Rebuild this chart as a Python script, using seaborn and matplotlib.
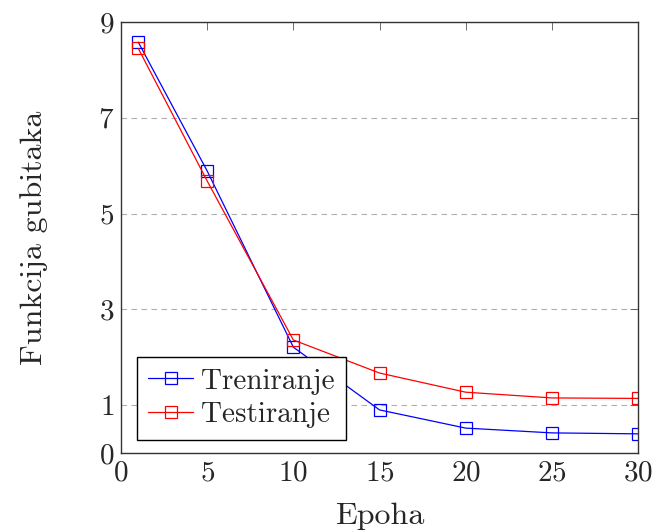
import pandas as pd
import matplotlib.pyplot as plt
import seaborn as sns

epohe = [1, 5, 10, 15, 20, 25, 30]
treniranje = [8.58, 5.89, 2.21, 0.90, 0.52, 0.42, 0.40]
testiranje = [8.45, 5.68, 2.36, 1.67, 1.27, 1.15, 1.14]
y_ticks = [0, 1, 3, 5, 7, 9]
x_ticks = [0, 5, 10, 15, 20, 25, 30]

df = pd.DataFrame({'Epoha': epohe, 'Treniranje': treniranje, 'Testiranje': testiranje})

sns.set_style('white')
plt.rcParams['font.family'] = ['cmr10', 'DejaVu Serif']
plt.rcParams['axes.formatter.use_mathtext'] = True
plt.rcParams['mathtext.fontset'] = 'cm'

fig = plt.figure(figsize=(6.56, 5.32), dpi=100)
ax = fig.add_axes([121 / 656, 79 / 532, 517 / 656, 431 / 532])

for name, color in [('Treniranje', 'blue'), ('Testiranje', 'red')]:
    sns.lineplot(data=df, x='Epoha', y=name, ax=ax, color=color, label=name,
                 marker='s', markersize=8, markerfacecolor='none',
                 markeredgecolor=color, markeredgewidth=0.9, linewidth=0.9)

ax.set_xlim(0, 30)
ax.set_ylim(0, 9)
ax.set_xticks(x_ticks)
ax.set_yticks(y_ticks)
ax.yaxis.grid(True, linestyle=(0, (5, 4)), color='#b0b0b0', linewidth=0.8)
ax.set_axisbelow(True)

ax.tick_params(direction='in', length=6, width=0.6, color='#555555',
               top=True, right=True, labelsize=21, pad=5)
for s in ax.spines.values():
    s.set_color('#333333')
    s.set_linewidth(1.0)

ax.set_xlabel('Epoha', fontsize=23, labelpad=12)
ax.set_ylabel('Funkcija gubitaka', fontsize=23, labelpad=36)

leg = ax.legend(loc='lower left', bbox_to_anchor=(0.03, 0.03), fontsize=21,
                frameon=True, fancybox=False, edgecolor='black',
                handlelength=1.55, handletextpad=0.25, borderpad=0.4,
                labelspacing=0.25, borderaxespad=0)
leg.get_frame().set_linewidth(1.0)
leg.get_frame().set_alpha(1)

plt.savefig('out.png', dpi=100)
